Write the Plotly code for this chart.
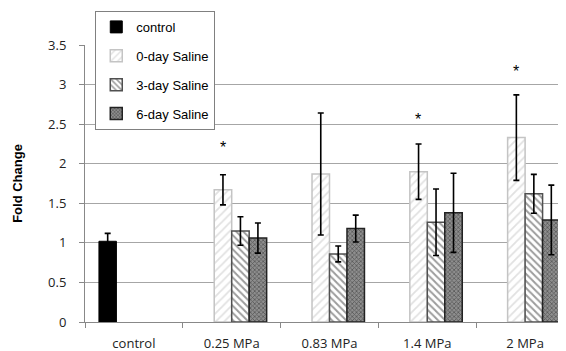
import plotly.graph_objects as go

categories = ["control", "0.25 MPa", "0.83 MPa", "1.4 MPa", "2 MPa"]
series_names = ["control", "0-day Saline", "3-day Saline", "6-day Saline"]

control_vals = [1.02, None, None, None, None]
control_err = [0.10, None, None, None, None]
day0_vals = [None, 1.67, 1.87, 1.90, 2.33]
day0_err = [None, 0.19, 0.77, 0.35, 0.54]
day3_vals = [None, 1.15, 0.86, 1.26, 1.62]
day3_err = [None, 0.18, 0.10, 0.42, 0.245]
day6_vals = [None, 1.06, 1.18, 1.38, 1.29]
day6_err = [None, 0.19, 0.17, 0.50, 0.44]

star_categories = ["0.25 MPa", "1.4 MPa", "2 MPa"]
star_y = [2.21, 2.56, 3.17]

fig = go.Figure()

def err(vals):
    return dict(type="data", array=vals, color="black", thickness=1.6, width=3, visible=True)

fig.add_trace(go.Bar(
    x=categories, y=control_vals, name=series_names[0], legendgroup="a",
    marker=dict(color="black", line=dict(color="black", width=1)),
    error_y=err(control_err)))
fig.add_trace(go.Bar(
    x=categories, y=day0_vals, name=series_names[1], legendgroup="b",
    marker=dict(color="white", line=dict(color="#c4c4c4", width=1.5),
                pattern=dict(shape="/", fgcolor="#c4c4c4", bgcolor="white", size=6, solidity=0.3)),
    error_y=err(day0_err)))
fig.add_trace(go.Bar(
    x=categories, y=day3_vals, name=series_names[2], legendgroup="c",
    marker=dict(color="white", line=dict(color="#505050", width=1.5),
                pattern=dict(shape="\\", fgcolor="#3a3a3a", bgcolor="white", size=5, solidity=0.4)),
    error_y=err(day3_err)))
fig.add_trace(go.Bar(
    x=categories, y=day6_vals, name=series_names[3], legendgroup="d",
    marker=dict(color="#777777", line=dict(color="#222222", width=1.5),
                pattern=dict(shape="x", fgcolor="#222222", bgcolor="#8e8e8e", size=3, solidity=0.45)),
    error_y=err(day6_err)))

for c, y in zip(star_categories, star_y):
    fig.add_annotation(x=c, y=y, text="*", showarrow=False, xshift=-9,
                       font=dict(family="Liberation Sans, Arial", size=16, color="black"))

fig.update_layout(
    width=566, height=351,
    margin=dict(l=77, r=0, t=37, b=37),
    paper_bgcolor="white", plot_bgcolor="white",
    barmode="group", bargap=0.285, bargroupgap=0,
    showlegend=True,
    legend=dict(x=0.021, y=1.123, xanchor="left", yanchor="top",
                bgcolor="white", bordercolor="#808080", borderwidth=1,
                font=dict(family="Liberation Sans, Arial", size=13, color="black"),
                traceorder="grouped", tracegroupgap=9),
    xaxis=dict(type="category", tickson="boundaries", ticks="outside", ticklen=5,
               tickcolor="#888888", showline=True, linecolor="#888888", linewidth=1,
               showgrid=False, ticklabelstandoff=9,
               tickfont=dict(family="Open Sans", size=13, color="#222222")),
    yaxis=dict(range=[0, 3.5], dtick=0.5, ticks="outside", ticklen=5, tickcolor="#888888",
               showline=True, linecolor="#888888", linewidth=1,
               showgrid=True, gridcolor="#a6a6a6", gridwidth=1, zeroline=False,
               ticklabelstandoff=10,
               tickfont=dict(family="Open Sans", size=13, color="#222222"),
               title=dict(text="<b>Fold Change</b>", standoff=22,
                          font=dict(family="Liberation Sans, Arial", size=13, color="black"))),
)

fig.write_html("out.html")
